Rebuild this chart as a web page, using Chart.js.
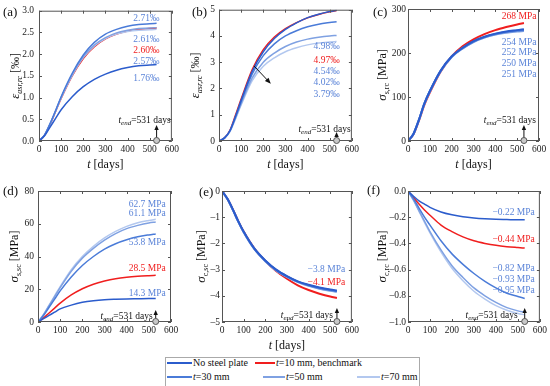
<!DOCTYPE html>
<html>
<head>
<meta charset="utf-8">
<script src="https://cdn.jsdelivr.net/npm/chart.js@4.4.1/dist/chart.umd.min.js"></script>
<style>
  body { margin: 0; width: 550px; height: 386px; position: relative; overflow: hidden; background: #fff; font-family: "Liberation Serif", serif; }
  canvas { position: absolute; }
  .lg { position: absolute; font-size: 10px; line-height: 12px; color: #111; white-space: nowrap; }
  .sw { position: absolute; height: 0; border-top: 2px solid; }
</style>
</head>
<body>
<div id="legendBox" style="position:absolute;left:165px;top:357px;width:253px;height:28px;border:1px solid #aaa;"></div>
<script>
// sampling days of every curve
var days = [0, 25, 50, 75, 100, 150, 200, 250, 300, 350, 400, 450, 500, 531];
var seriesNames = ['No steel plate', 't=10 mm, benchmark', 't=30 mm', 't=50 mm', 't=70 mm'];

// (a) ASR expansion eps_asr,rc [permil]
var aNoPlate = [0, 0.12, 0.32, 0.52, 0.72, 1.02, 1.25, 1.42, 1.54, 1.63, 1.69, 1.73, 1.75, 1.76];
var aT10 = [0, 0.13, 0.38, 0.68, 0.98, 1.50, 1.90, 2.17, 2.35, 2.46, 2.53, 2.57, 2.59, 2.60];
var aT30 = [0, 0.14, 0.40, 0.70, 1.02, 1.56, 1.98, 2.27, 2.46, 2.57, 2.64, 2.68, 2.70, 2.71];
var aT50 = [0, 0.13, 0.39, 0.69, 1.00, 1.53, 1.94, 2.21, 2.38, 2.49, 2.55, 2.59, 2.60, 2.61];
var aT70 = [0, 0.13, 0.39, 0.69, 0.99, 1.51, 1.92, 2.19, 2.36, 2.46, 2.52, 2.55, 2.56, 2.57];
var aLabels = ['2.71\u2030', '2.61\u2030', '2.60\u2030', '2.57\u2030', '1.76\u2030'];

// (b) ASR expansion, second section
var bNoPlate = [0, 0.12, 0.40, 0.95, 1.55, 2.65, 3.40, 3.90, 4.25, 4.50, 4.70, 4.83, 4.93, 4.98];
var bT10 = [0, 0.12, 0.42, 1.00, 1.60, 2.72, 3.48, 3.96, 4.28, 4.51, 4.69, 4.82, 4.92, 4.97];
var bT30 = [0, 0.12, 0.40, 0.93, 1.50, 2.55, 3.25, 3.70, 4.00, 4.20, 4.35, 4.45, 4.51, 4.54];
var bT50 = [0, 0.11, 0.38, 0.88, 1.42, 2.40, 3.00, 3.35, 3.60, 3.77, 3.88, 3.95, 4.00, 4.02];
var bT70 = [0, 0.11, 0.37, 0.85, 1.37, 2.30, 2.85, 3.17, 3.40, 3.55, 3.66, 3.73, 3.77, 3.79];
var bLabels = ['4.98\u2030', '4.97\u2030', '4.54\u2030', '4.02\u2030', '3.79\u2030'];

// (c) steel stress sigma_s,rc [MPa]
var cNoPlate = [0, 16, 48, 85, 113, 160, 192, 212, 227, 237, 244, 249, 252, 254];
var cT10 = [0, 15, 46, 82, 110, 158, 192, 215, 231, 243, 252, 259, 265, 268];
var cT30 = [0, 16, 48, 85, 113, 160, 192, 211, 226, 236, 243, 248, 251, 252];
var cT50 = [0, 16, 48, 85, 113, 159, 191, 210, 225, 235, 242, 246, 249, 250];
var cT70 = [0, 16, 48, 85, 113, 159, 191, 211, 225, 235, 242, 247, 250, 251];
var cLabels = ['268 MPa', '254 MPa', '252 MPa', '250 MPa', '251 MPa'];

// (d) steel stress sigma_s,sc [MPa]
var dNoPlate = [0, 2.0, 4.0, 6.0, 8.0, 10.3, 12.0, 13.0, 13.6, 13.9, 14.1, 14.2, 14.3, 14.3];
var dT10 = [0, 2.5, 5.5, 8.5, 11.5, 16.5, 20.3, 23.1, 25.0, 26.4, 27.3, 27.9, 28.3, 28.5];
var dT30 = [0, 4.0, 9.0, 14.0, 19.0, 27.5, 34.5, 40.0, 44.5, 47.8, 50.2, 52.0, 53.2, 53.8];
var dT50 = [0, 4.5, 10.0, 15.5, 21.0, 31.0, 39.0, 45.0, 50.0, 54.0, 57.0, 59.0, 60.5, 61.1];
var dT70 = [0, 4.6, 10.3, 16.0, 21.6, 32.0, 40.0, 46.2, 51.3, 55.3, 58.4, 60.6, 62.0, 62.7];
var dLabels = ['62.7 MPa', '61.1 MPa', '53.8 MPa', '28.5 MPa', '14.3 MPa'];

// (e) concrete stress sigma_c,sc [MPa]
var eNoPlate = [0, -0.30, -0.70, -1.15, -1.55, -2.20, -2.65, -3.00, -3.25, -3.45, -3.58, -3.68, -3.76, -3.80];
var eT10 = [0, -0.30, -0.70, -1.15, -1.55, -2.20, -2.67, -3.05, -3.35, -3.60, -3.78, -3.92, -4.03, -4.08];
var eT30 = [0, -0.30, -0.71, -1.16, -1.56, -2.21, -2.66, -3.01, -3.26, -3.46, -3.60, -3.70, -3.78, -3.82];
var eT50 = [0, -0.31, -0.72, -1.17, -1.57, -2.22, -2.68, -3.03, -3.28, -3.48, -3.62, -3.73, -3.81, -3.85];
var eT70 = [0, -0.31, -0.72, -1.17, -1.57, -2.22, -2.67, -3.02, -3.27, -3.47, -3.61, -3.72, -3.80, -3.84];
var eLabels = ['\u22123.8 MPa', '\u22124.1 MPa'];

// (f) concrete stress sigma_c,rc [MPa]
var fNoPlate = [0, -0.04, -0.075, -0.10, -0.125, -0.16, -0.182, -0.197, -0.206, -0.212, -0.216, -0.218, -0.22, -0.22];
var fT10 = [0, -0.05, -0.10, -0.145, -0.185, -0.26, -0.31, -0.35, -0.38, -0.40, -0.415, -0.425, -0.432, -0.436];
var fT30 = [0, -0.06, -0.13, -0.20, -0.26, -0.38, -0.48, -0.56, -0.63, -0.69, -0.74, -0.78, -0.805, -0.82];
var fT50 = [0, -0.07, -0.15, -0.23, -0.31, -0.45, -0.57, -0.66, -0.74, -0.80, -0.85, -0.89, -0.915, -0.925];
var fT70 = [0, -0.07, -0.155, -0.24, -0.32, -0.465, -0.59, -0.685, -0.765, -0.825, -0.875, -0.91, -0.935, -0.945];
var fLabels = ['\u22120.22 MPa', '\u22120.44 MPa', '\u22120.82 MPa', '\u22120.93 MPa', '\u22120.95 MPa'];

var tEnd = 531;

// styles
var lineColors = ['#2b5ccc', '#f01e1e', '#4a7bd8', '#7fa1e2', '#b3c8ef'];
var drawOrder = [1, 5, 2, 3, 4];
var blueText = '#5b84d8';
var redText = '#f01e1e';
var SERIF = '"Liberation Serif", "Times New Roman", serif';

var panels = [
  { letter: '(a)', letterAt: [3, 16], box: [0, 0, 182, 172], plot: [39, 9, 172, 141], pad: 5,
    series: [aNoPlate, aT10, aT30, aT50, aT70], ymin: 0, ymax: 3, ystep: 0.5, dec: 1,
    yt: ['\u03b5', 'asr,rc', ' [\u2030]'], ytOff: 24, xTitle: true,
    labels: aLabels, labCol: [blueText, blueText, redText, blueText, blueText],
    labY: [2.82, 2.34, 2.09, 1.84, 1.44], labX: 544, tend: [14, 22, 16] },
  { letter: '(b)', letterAt: [192, 16], box: [182, 0, 180, 172], plot: [219, 9, 352, 141], pad: 4,
    series: [bNoPlate, bT10, bT30, bT50, bT70], ymin: 0, ymax: 5, ystep: 1, dec: 0,
    yt: ['\u03b5', 'asr,rc', ' [\u2030]'], ytOff: 24, xTitle: true,
    labels: bLabels, labCol: [blueText, redText, blueText, blueText, blueText],
    labY: [3.58, 3.07, 2.65, 2.21, 1.76], labX: 545, tend: [14, 13, 9],
    arrow: [158, 2.86, 234, 2.18] },
  { letter: '(c)', letterAt: [373, 16], box: [362, 0, 188, 172], plot: [408, 9, 539, 141], pad: 2,
    series: [cNoPlate, cT10, cT30, cT50, cT70], ymin: 0, ymax: 300, ystep: 100, dec: 0,
    yt: ['\u03c3', 's,rc', ' [MPa]'], ytOff: 26, xTitle: true, lw: 2,
    labels: cLabels, labCol: [redText, blueText, blueText, blueText, blueText],
    labY: [283, 225, 201, 177, 152], labX: 588, tend: [12, 22, 16] },
  { letter: '(d)', letterAt: [3, 195], box: [0, 172, 182, 178], plot: [38, 191, 171, 322], pad: 4,
    series: [dNoPlate, dT10, dT30, dT50, dT70], ymin: 0, ymax: 80, ystep: 20, dec: 0,
    yt: ['\u03c3', 's,sc', ' [MPa]'], ytOff: 24, xTitle: false,
    labels: dLabels, labCol: [blueText, blueText, blueText, redText, blueText],
    labY: [72, 66, 48.7, 32.4, 17.3], labX: 576, tend: [-3, 7, 12] },
  { letter: '(e)', letterAt: [199, 196], box: [182, 172, 180, 182], plot: [222, 191, 353, 322], pad: 2,
    series: [eNoPlate, eT10, eT30, eT50, eT70], ymin: -5, ymax: 0, ystep: 1, dec: 0,
    yt: ['\u03c3', 'c,sc', ' [MPa]'], ytOff: 21, xTitle: true, lw: 2,
    labels: eLabels, labCol: [blueText, redText],
    labY: [-2.99, -3.5], labX: 569, tend: [-4, 8, 14] },
  { letter: '(f)', letterAt: [367, 194], box: [362, 172, 188, 178], plot: [408, 191, 540, 322], pad: 2,
    series: [fNoPlate, fT10, fT30, fT50, fT70], ymin: -1, ymax: 0, ystep: 0.2, dec: 1,
    yt: ['\u03c3', 'c,rc', ' [MPa]'], ytOff: 26, xTitle: false,
    labels: fLabels, labCol: [blueText, redText, blueText, blueText, blueText],
    labY: [-0.162, -0.37, -0.59, -0.675, -0.756], labX: 577, tend: [-7, 8, 14] }
];

function fmt(v, dec) {
  var s = Math.abs(v).toFixed(dec);
  return (v < -1e-9 ? '\u2013' : '') + s;
}

function drawRich(ctx, parts, x, y, align) {
  var w = 0;
  parts.forEach(function (p) { ctx.font = p.font; w += ctx.measureText(p.t).width; });
  var cx = align === 'center' ? x - w / 2 : (align === 'right' ? x - w : x);
  ctx.textAlign = 'left';
  ctx.textBaseline = 'alphabetic';
  parts.forEach(function (p) {
    ctx.font = p.font;
    ctx.fillText(p.t, cx, y + (p.dy || 0));
    cx += ctx.measureText(p.t).width;
  });
}

function makeDeco(p) {
  return {
    id: 'deco',
    afterDraw: function (chart) {
      var ctx = chart.ctx, a = chart.chartArea, xs = chart.scales.x, ys = chart.scales.y;
      var ox = p.box[0], oy = p.box[1];
      ctx.save();
      // frame + inner ticks
      ctx.strokeStyle = '#555';
      ctx.lineWidth = 1;
      ctx.strokeRect(a.left + 0.5, a.top + 0.5, a.right - a.left - 1, a.bottom - a.top - 1);
      ctx.beginPath();
      xs.ticks.forEach(function (t) {
        var px = Math.round(xs.getPixelForValue(t.value)) + 0.5;
        ctx.moveTo(px, a.bottom); ctx.lineTo(px, a.bottom - 3);
        ctx.moveTo(px, a.top); ctx.lineTo(px, a.top + 3);
      });
      ys.ticks.forEach(function (t) {
        var py = Math.round(ys.getPixelForValue(t.value)) + 0.5;
        ctx.moveTo(a.left, py); ctx.lineTo(a.left + 3, py);
        ctx.moveTo(a.right, py); ctx.lineTo(a.right - 3, py);
      });
      ctx.stroke();

      ctx.fillStyle = '#111';
      // panel letter
      ctx.font = '13px ' + SERIF;
      ctx.textAlign = 'left';
      ctx.textBaseline = 'alphabetic';
      ctx.fillText(p.letter, p.letterAt[0] - ox, p.letterAt[1] - oy);

      // x title
      if (p.xTitle) {
        drawRich(ctx, [
          { t: 't', font: 'italic 12px ' + SERIF },
          { t: ' [days]', font: '12px ' + SERIF }
        ], (a.left + a.right) / 2, a.bottom + 27, 'center');
      }
      // y title
      ctx.save();
      ctx.translate(a.left - p.ytOff, (a.top + a.bottom) / 2);
      ctx.rotate(-Math.PI / 2);
      drawRich(ctx, [
        { t: p.yt[0], font: 'italic 13px ' + SERIF },
        { t: p.yt[1], font: (p.yt[0] === '\u03b5' ? 'italic ' : '') + '8px ' + SERIF, dy: 3 },
        { t: p.yt[2], font: '12px ' + SERIF }
      ], 0, 4, 'center');
      ctx.restore();

      // end value labels
      ctx.font = '9.5px ' + SERIF;
      ctx.textAlign = 'right';
      ctx.textBaseline = 'middle';
      var lx = xs.getPixelForValue(p.labX);
      p.labels.forEach(function (txt, i) {
        ctx.fillStyle = p.labCol[i];
        ctx.fillText(txt, lx, ys.getPixelForValue(p.labY[i]));
      });

      // trend arrow (panel b)
      if (p.arrow) {
        var x1 = xs.getPixelForValue(p.arrow[0]), y1 = ys.getPixelForValue(p.arrow[1]);
        var x2 = xs.getPixelForValue(p.arrow[2]), y2 = ys.getPixelForValue(p.arrow[3]);
        var ang = Math.atan2(y2 - y1, x2 - x1);
        ctx.strokeStyle = '#111';
        ctx.fillStyle = '#111';
        ctx.beginPath();
        ctx.moveTo(x1, y1);
        ctx.lineTo(x2 - 4 * Math.cos(ang), y2 - 4 * Math.sin(ang));
        ctx.stroke();
        ctx.beginPath();
        ctx.moveTo(x2, y2);
        ctx.lineTo(x2 - 6 * Math.cos(ang) + 2.5 * Math.sin(ang), y2 - 6 * Math.sin(ang) - 2.5 * Math.cos(ang));
        ctx.lineTo(x2 - 6 * Math.cos(ang) - 2.5 * Math.sin(ang), y2 - 6 * Math.sin(ang) + 2.5 * Math.cos(ang));
        ctx.closePath();
        ctx.fill();
      }

      // t_end marker
      var cx = xs.getPixelForValue(tEnd), by = a.bottom;
      ctx.strokeStyle = '#111';
      ctx.fillStyle = '#111';
      ctx.lineWidth = 1;
      ctx.beginPath();
      ctx.moveTo(cx, by - 3);
      ctx.lineTo(cx, by - p.tend[2] + 4);
      ctx.stroke();
      ctx.beginPath();
      ctx.moveTo(cx, by - p.tend[2]);
      ctx.lineTo(cx - 2.2, by - p.tend[2] + 5);
      ctx.lineTo(cx + 2.2, by - p.tend[2] + 5);
      ctx.closePath();
      ctx.fill();
      ctx.beginPath();
      ctx.arc(cx, by - 0.5, 3, 0, Math.PI * 2);
      ctx.fillStyle = '#c8c8c8';
      ctx.fill();
      ctx.strokeStyle = '#555';
      ctx.stroke();
      ctx.fillStyle = '#111';
      drawRich(ctx, [
        { t: 't', font: 'italic 9.5px ' + SERIF },
        { t: 'end', font: 'italic 7px ' + SERIF, dy: 2 },
        { t: '=' + tEnd + ' days', font: '9.5px ' + SERIF }
      ], cx + p.tend[0], by - p.tend[1] + 3.5, 'right');
      ctx.restore();
    }
  };
}

function build(p) {
  var cv = document.createElement('canvas');
  cv.width = p.box[2];
  cv.height = p.box[3];
  cv.style.left = p.box[0] + 'px';
  cv.style.top = p.box[1] + 'px';
  document.body.appendChild(cv);
  var tickFont = { family: SERIF, size: 9.5 };
  var datasets = p.series.map(function (vals, i) {
    return {
      label: seriesNames[i],
      data: days.map(function (d, j) { return { x: d, y: vals[j] }; }),
      borderColor: lineColors[i],
      borderWidth: p.lw || 1.5,
      pointRadius: 0,
      cubicInterpolationMode: 'monotone',
      fill: false,
      order: drawOrder[i]
    };
  });
  new Chart(cv, {
    type: 'line',
    data: { datasets: datasets },
    options: {
      responsive: false,
      animation: false,
      events: [],
      layout: { padding: { left: 0, top: p.plot[1] - p.box[1], right: p.box[0] + p.box[2] - p.plot[2], bottom: 0 } },
      scales: {
        x: {
          type: 'linear', min: 0, max: 600,
          afterFit: function (s) { s.height = p.box[1] + p.box[3] - p.plot[3]; },
          ticks: { stepSize: 100, autoSkip: false, maxRotation: 0, padding: 3, color: '#222', font: tickFont },
          grid: { display: false, drawTicks: false }, border: { display: false }
        },
        y: {
          type: 'linear', min: p.ymin, max: p.ymax,
          afterFit: function (s) { s.width = p.plot[0] - p.box[0]; },
          ticks: { stepSize: p.ystep, autoSkip: false, padding: p.pad, color: '#222', font: tickFont,
            callback: function (v) { return fmt(v, p.dec); } },
          grid: { display: false, drawTicks: false }, border: { display: false }
        }
      },
      plugins: { legend: { display: false }, tooltip: { enabled: false } }
    },
    plugins: [makeDeco(p)]
  });
}

panels.forEach(build);

// legend below the panels
var legendAt = [[167, 363], [255, 363], [167, 377], [263, 377], [357, 377]];
var legendLen = [25, 20, 25, 22, 23];
seriesNames.forEach(function (name, i) {
  var sw = document.createElement('div');
  sw.className = 'sw';
  sw.style.left = legendAt[i][0] + 'px';
  sw.style.top = (legendAt[i][1] - 1) + 'px';
  sw.style.width = legendLen[i] + 'px';
  sw.style.borderTopColor = lineColors[i];
  document.body.appendChild(sw);
  var tx = document.createElement('div');
  tx.className = 'lg';
  tx.style.left = (legendAt[i][0] + legendLen[i] + 1) + 'px';
  tx.style.top = (legendAt[i][1] - 6) + 'px';
  tx.innerHTML = name.charAt(0) === 't' ? '<i>t</i>' + name.slice(1) : name;
  document.body.appendChild(tx);
});
</script>
</body>
</html>
